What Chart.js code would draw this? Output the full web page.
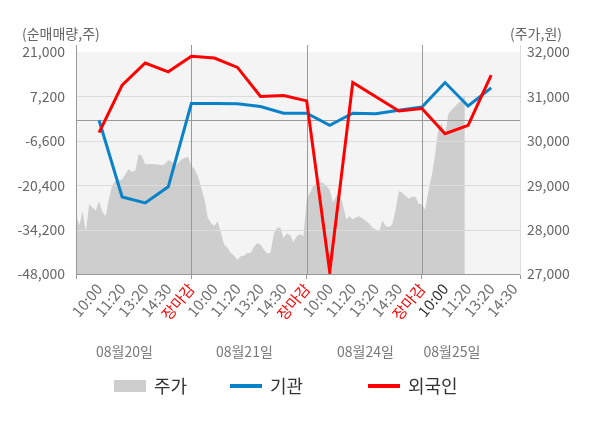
<!DOCTYPE html>
<html>
<head>
<meta charset="utf-8">
<script src="https://cdn.jsdelivr.net/npm/chart.js@4.4.0/dist/chart.umd.min.js"></script>
<style>
  html, body { margin: 0; padding: 0; background: #fff; }
  #wrap { width: 600px; height: 428px; }
</style>
</head>
<body>
<div id="wrap"><canvas id="chart" width="600" height="428"></canvas></div>
<script>
const days = ["08월20일", "08월21일", "08월24일", "08월25일"];
const sessionTimes = ["10:00", "11:20", "13:20", "14:30", "장마감"];
const dayLabelAt = [2.1, 7.3, 12.55, 16.3];

// 순매매량 (주), one value per time label
const institution = [-200, -24050, -25900, -20900, 5000, 5000, 4950, 4050, 1950, 1950,
	-1800, 1950, 1800, 2900, 3900, 11500, 4200, 9850];
const foreigner = [-4070, 10700, 17570, 14850, 19650, 19130, 16220, 7200, 7500, 5800,
	-47300, 11540, 7100, 2670, 3420, -4380, -1790, 13820];

// 주가 (원), sampled through each session
const priceDay1 = [28340, 28100, 28415, 27960, 28570, 28500, 28430, 28640, 28400, 28300,
	28700, 29000, 29100, 29110, 29130, 29250, 29360, 29300, 29330, 29700,
	29660, 29470, 29480, 29480, 29470, 29460, 29450, 29480, 29560, 29540,
	29440, 29500, 29580, 29610, 29640];
const priceDay2 = [29430, 29360, 29200, 28940, 28680, 28265, 28150, 28080, 28190, 27925,
	27660, 27585, 27475, 27413, 27323, 27400, 27410, 27475, 27475, 27600,
	27700, 27660, 27550, 27460, 27475, 27890, 28040, 28050, 27810, 27920,
	27870, 27720, 27850, 27900, 27850];
const priceDay3 = [28680, 28830, 28980, 29055, 29060, 29055, 28980, 28900, 28600, 28755,
	28830, 28565, 28225, 28300, 28230, 28280, 28300, 28250, 28190, 28135,
	28040, 28000, 27950, 28205, 28075, 28060, 28115, 28450, 28870, 28830,
	28755, 28700, 28740, 28740, 28590];
const priceDay4 = [28565, 28450, 28880, 29230, 29700, 30300, 30400, 30100, 30600, 30700,
	30770, 30850, 30900, 31040];

const leftMin = -48000, leftMax = 21000, leftStep = 13800;
const rightMin = 27000, rightMax = 32000, rightStep = 1000;

const perDay = sessionTimes.length;
const samplesPerDay = 35;
const xMax = 19.25;

const tickLabels = [""];
days.forEach(() => sessionTimes.forEach((t) => tickLabels.push(t)));
const tickValues = [];
for (let i = 0; i <= Math.floor(xMax); i++) tickValues.push(i);
tickValues.push(xMax);
const boundaries = days.map((d, i) => i * perDay).concat([xMax]);

const pricePoints = [];
[priceDay1, priceDay2, priceDay3, priceDay4].forEach((arr, d) => {
	arr.forEach((v, i) => pricePoints.push({ x: d * perDay + (i * perDay) / samplesPerDay, y: v }));
});
const toPoints = (arr) => arr.map((v, i) => ({ x: i + 1, y: v }));

const FONT = "'Noto Sans CJK KR', 'Noto Sans', sans-serif";
Chart.defaults.font.family = FONT;

function hline(ctx, x1, y1, x2, y2) {
	ctx.beginPath();
	ctx.moveTo(x1, y1);
	ctx.lineTo(x2, y2);
	ctx.stroke();
}

const decor = {
	id: "decor",
	beforeDraw(chart) {
		const { ctx, chartArea: a } = chart;
		ctx.save();
		ctx.fillStyle = "#f4f4f4";
		ctx.fillRect(a.left, a.top, a.right - a.left, a.bottom - a.top);
		ctx.restore();
	},
	// grid goes over the price area but under the two lines
	afterDatasetDraw(chart, args) {
		if (args.index !== 0) return;
		const { ctx, chartArea: a, scales } = chart;
		ctx.save();
		ctx.lineWidth = 1;
		ctx.strokeStyle = "#dcdcdc";
		scales.y.ticks.forEach((t) => {
			if (t.value === leftMin || t.value === leftMax) return;
			const py = Math.round(scales.y.getPixelForValue(t.value)) + 0.5;
			hline(ctx, a.left, py, a.right, py);
		});
		ctx.strokeStyle = "#999";
		const zy = Math.round(scales.y.getPixelForValue(0)) + 0.5;
		hline(ctx, a.left, zy, a.right, zy);
		boundaries.slice(0, -1).forEach((b) => {
			const px = Math.round(scales.x.getPixelForValue(b)) + 0.5;
			hline(ctx, px, a.top - 7, px, a.bottom);
		});
		ctx.strokeStyle = "#ddd";
		hline(ctx, a.right + 0.5, a.top - 7, a.right + 0.5, a.bottom);
		ctx.restore();
	},
	afterDraw(chart) {
		const { ctx, scales } = chart;
		ctx.save();
		ctx.font = "14px " + FONT;
		ctx.fillStyle = "#666";
		ctx.textBaseline = "middle";
		ctx.textAlign = "left";
		ctx.fillText("(순매매량,주)", 22, 34);
		ctx.textAlign = "right";
		ctx.fillText("(주가,원)", 562, 34);
		ctx.fillStyle = "#777";
		ctx.textAlign = "center";
		days.forEach((d, i) => ctx.fillText(d, scales.x.getPixelForValue(dayLabelAt[i]), 352));

		// legend
		const legendX = [114, 230, 368];
		const ly = 386;
		ctx.font = "18px " + FONT;
		ctx.textAlign = "left";
		chart.data.datasets.forEach((ds, i) => {
			const x = legendX[i];
			if (ds.fill) {
				ctx.fillStyle = ds.backgroundColor;
				ctx.fillRect(x, ly - 6, 32, 12);
			} else {
				ctx.strokeStyle = ds.borderColor;
				ctx.lineWidth = 4;
				hline(ctx, x, ly, x + 32, ly);
			}
			ctx.fillStyle = "#333";
			ctx.fillText(ds.label, x + 40, ly);
		});
		ctx.restore();
	},
};

new Chart(document.getElementById("chart").getContext("2d"), {
	type: "line",
	data: {
		datasets: [
			{
				label: "주가",
				data: pricePoints,
				yAxisID: "y1",
				fill: "start",
				backgroundColor: "#cecece",
				borderWidth: 0,
				pointRadius: 0,
				order: 3,
			},
			{
				label: "기관",
				data: toPoints(institution),
				yAxisID: "y",
				borderColor: "#0a82ca",
				borderWidth: 3,
				pointRadius: 0,
				fill: false,
				order: 2,
			},
			{
				label: "외국인",
				data: toPoints(foreigner),
				yAxisID: "y",
				borderColor: "#ff0000",
				borderWidth: 3,
				pointRadius: 0,
				fill: false,
				order: 1,
			},
		],
	},
	options: {
		responsive: false,
		animation: false,
		devicePixelRatio: 1,
		layout: { padding: { top: 52, left: 0, right: 0, bottom: 0 } },
		plugins: {
			legend: { display: false },
			tooltip: { enabled: false },
		},
		scales: {
			x: {
				type: "linear",
				min: 0,
				max: xMax,
				afterBuildTicks: (s) => {
					s.ticks = tickValues.map((v) => ({ value: v }));
				},
				afterFit: (s) => {
					s.height = 154;
				},
				grid: {
					drawOnChartArea: false,
					drawTicks: true,
					tickLength: 5,
					color: (c) => (c.tick && boundaries.includes(c.tick.value) ? "#999" : "rgba(0,0,0,0)"),
				},
				border: { color: "#999" },
				ticks: {
					autoSkip: false,
					minRotation: 50,
					maxRotation: 50,
					padding: 1,
					font: { size: 15 },
					color: (c) => {
						const lab = tickLabels[c.tick.value];
						if (lab === "장마감") return "#ff0000";
						if (c.tick.value === 16) return "#333";
						return "#707070";
					},
					callback: (v) => tickLabels[v] || "",
				},
			},
			y: {
				position: "left",
				min: leftMin,
				max: leftMax,
				afterFit: (s) => {
					s.width = 76;
				},
				grid: { drawOnChartArea: false, drawTicks: false },
				border: { color: "#999" },
				ticks: {
					stepSize: leftStep,
					padding: 11,
					font: { size: 14 },
					color: "#666",
					callback: (v) => v.toLocaleString("en-US"),
				},
			},
			y1: {
				position: "right",
				min: rightMin,
				max: rightMax,
				afterFit: (s) => {
					s.width = 80;
				},
				grid: { drawOnChartArea: false, drawTicks: false },
				border: { color: "#ddd" },
				ticks: {
					stepSize: rightStep,
					padding: 7,
					font: { size: 14 },
					color: "#666",
					callback: (v) => v.toLocaleString("en-US"),
				},
			},
		},
	},
	plugins: [decor],
});
</script>
</body>
</html>
